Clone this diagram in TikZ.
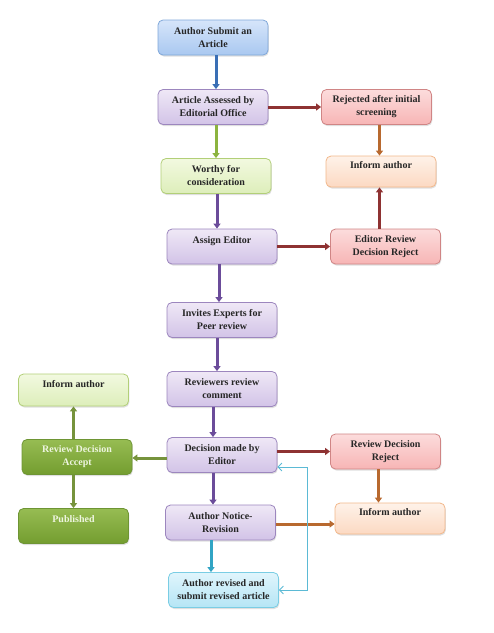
\documentclass[tikz,border=0pt]{standalone}
\usepackage{fontspec}
\setmainfont{Liberation Serif}
\usetikzlibrary{arrows.meta,shadows}
\definecolor{txt}{HTML}{262626}
\definecolor{aBlue}{HTML}{3A6FB5}
\definecolor{aRed}{HTML}{8E3232}
\definecolor{aGreenL}{HTML}{8CB43F}
\definecolor{aGreen}{HTML}{76933C}
\definecolor{aPurple}{HTML}{6B4C9A}
\definecolor{aOrange}{HTML}{B8692F}
\definecolor{aTeal}{HTML}{31A4C4}
\definecolor{aFb}{HTML}{5BBAD5}
\tikzset{
  box/.style={rounded corners=5pt, minimum width=110pt, minimum height=35pt,
    inner sep=2pt, align=center, font=\bfseries\fontsize{10}{13}\selectfont,
    text=txt, line width=0.8pt,
    drop shadow={shadow xshift=0.8pt, shadow yshift=-1.5pt, opacity=0.25}},
  bluebox/.style={box, draw=HTMLblueB, top color=HTMLblueT, bottom color=HTMLblueBo},
  purplebox/.style={box, draw=purB, top color=purT, bottom color=purBo},
  redbox/.style={box, draw=redB, top color=redT, bottom color=redBo},
  lgreenbox/.style={box, draw=lgB, top color=lgT, bottom color=lgBo},
  orangebox/.style={box, draw=orB, top color=orT, bottom color=orBo},
  dgreenbox/.style={box, draw=dgB, top color=dgT, bottom color=dgBo, text=dgText},
  cyanbox/.style={box, draw=cyB, top color=cyT, bottom color=cyBo},
  conn/.style={line width=3pt, -{Triangle[length=5pt,width=7pt]}},
  fb/.style={line width=0.8pt, draw=aFb, {Straight Barb[length=4pt,width=8pt]}-{Straight Barb[length=4pt,width=8pt]}}
}
\definecolor{HTMLblueB}{HTML}{7FA7D9}\definecolor{HTMLblueT}{HTML}{D6E5FA}\definecolor{HTMLblueBo}{HTML}{A9C8F0}
\definecolor{purB}{HTML}{9C86BE}\definecolor{purT}{HTML}{EFE8F6}\definecolor{purBo}{HTML}{D2C3E7}
\definecolor{redB}{HTML}{D08585}\definecolor{redT}{HTML}{FCDCDC}\definecolor{redBo}{HTML}{F7B5B5}
\definecolor{lgB}{HTML}{B2CF78}\definecolor{lgT}{HTML}{F2F9E0}\definecolor{lgBo}{HTML}{DDEEBA}
\definecolor{orB}{HTML}{F2B88B}\definecolor{orT}{HTML}{FEF2E9}\definecolor{orBo}{HTML}{FCD9C2}
\definecolor{dgB}{HTML}{6E9534}\definecolor{dgT}{HTML}{97BC52}\definecolor{dgBo}{HTML}{739D30}\definecolor{dgText}{HTML}{EEF5E0}
\definecolor{cyB}{HTML}{7ACDE4}\definecolor{cyT}{HTML}{E0F5FC}\definecolor{cyBo}{HTML}{B5E5F5}
\begin{document}
\begin{tikzpicture}[x=1pt,y=-1pt]
\useasboundingbox (0,0) rectangle (494,633);
\node[bluebox]   (submit)   at (213,37.5) {Author Submit an\\Article};
\node[purplebox] (assess)   at (213,107)  {Article Assessed by\\Editorial Office};
\node[redbox]    (rej1)     at (376.5,107) {Rejected after initial\\screening};
\node[lgreenbox] (worthy)   at (216,176)  {Worthy for\\consideration};
\node[orangebox, minimum height=31pt] (inf1) at (381,171.5) {Inform author\\\mbox{}};
\node[purplebox] (assign)   at (222,246.5) {Assign Editor\\\mbox{}};
\node[redbox]    (edrej)    at (385.5,246.5) {Editor Review\\Decision Reject};
\node[purplebox] (invite)   at (222,320)  {Invites Experts for\\Peer review};
\node[purplebox] (reviewers) at (222,389) {Reviewers review\\comment};
\node[purplebox] (decision) at (222,455)  {Decision made by\\Editor};
\node[purplebox] (notice)   at (220.5,522.5) {Author Notice-\\Revision};
\node[cyanbox]   (revised)  at (223.5,590) {Author revised and\\submit revised article};
\node[lgreenbox, minimum height=32pt] (inf2) at (73.5,390) {Inform author\\\mbox{}};
\node[dgreenbox] (accept)   at (77,457)   {Review Decision\\Accept};
\node[dgreenbox] (published) at (73.5,526) {Published\\\mbox{}};
\node[redbox]    (revrej)   at (385.5,451.5) {Review Decision\\Reject};
\node[orangebox, minimum height=31pt] (inf3) at (390,518.5) {Inform author\\\mbox{}};

\draw[conn, aBlue] ([xshift=3pt]submit.south) -- ([xshift=3pt]submit.south |- assess.north);
\draw[conn, aRed] (assess.east) -- (rej1.west);
\draw[conn, aOrange] ([xshift=3pt]rej1.south) -- ([xshift=3pt]rej1.south |- inf1.north);
\draw[conn, aGreenL] ([xshift=3pt]assess.south) -- ([xshift=3pt]assess.south |- worthy.north);
\draw[conn, aPurple] ([xshift=1pt]worthy.south) -- ([xshift=1pt]worthy.south |- assign.north);
\draw[conn, aRed] (assign.east) -- (assign.east -| edrej.west);
\draw[conn, aRed] ([xshift=-6pt]edrej.north) -- ([xshift=-6pt]edrej.north |- inf1.south);
\draw[conn, aPurple] ([xshift=-3pt]assign.south) -- ([xshift=-3pt]assign.south |- invite.north);
\draw[conn, aPurple] ([xshift=-5pt]invite.south) -- ([xshift=-5pt]invite.south |- reviewers.north);
\draw[conn, aPurple] ([xshift=-9pt]reviewers.south) -- ([xshift=-9pt]reviewers.south |- decision.north);
\draw[conn, aGreen] ([yshift=-3pt]decision.west) -- ([yshift=-3pt]decision.west -| accept.east);
\draw[conn, aGreen] (accept.north -| inf2) -- (inf2.south);
\draw[conn, aGreen] (accept.south -| published) -- (published.north);
\draw[conn, aRed] (decision.east |- revrej) -- (revrej.west);
\draw[conn, aOrange] ([xshift=-7pt]revrej.south) -- ([xshift=-7pt]revrej.south |- inf3.north);
\draw[conn, aPurple] ([xshift=-9pt]decision.south) -- ([xshift=-9pt]decision.south |- notice.north);
\draw[conn, aOrange] ([yshift=-1.5pt]notice.east) -- ([yshift=-1.5pt]notice.east -| inf3.west);
\draw[conn, aTeal] ([xshift=-9.5pt]notice.south) -- ([xshift=-9.5pt]notice.south |- revised.north);
\draw[fb] (revised.east) -- ++(28,0) |- ([yshift=-12pt]decision.east);
\end{tikzpicture}
\end{document}
